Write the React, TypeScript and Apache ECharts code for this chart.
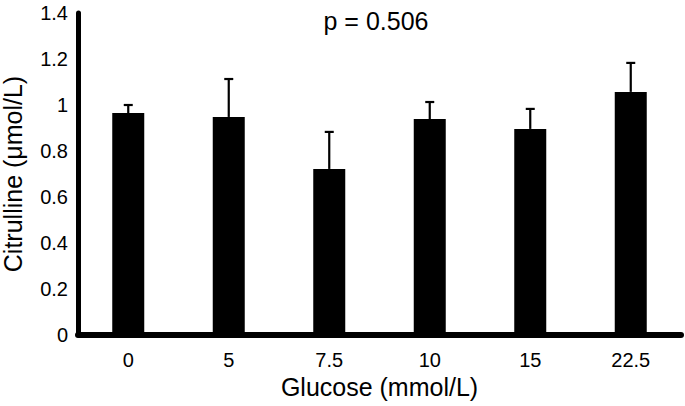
import React, { useEffect, useRef } from "react";
import * as echarts from "echarts";

const categories = ["0", "5", "7.5", "10", "15", "22.5"];
const means = [0.965, 0.948, 0.722, 0.939, 0.896, 1.057];
const errorTops = [1.0, 1.113, 0.883, 1.013, 0.983, 1.183];
const pText = "p = 0.506";

const FONT = "'Liberation Sans', Arial, sans-serif";

export default function App() {
  const ref = useRef<HTMLDivElement>(null);
  useEffect(() => {
    document.body.style.margin = "0";
    const chart = echarts.init(ref.current!, null, { renderer: "svg" });
    const errData = categories.map((_, i) => [i, means[i], errorTops[i]]);
    chart.setOption({
      animation: false,
      backgroundColor: "#ffffff",
      textStyle: { fontFamily: FONT },
      grid: { left: 78, right: 4, top: 13, bottom: 71, outerBoundsMode: "none", containLabel: false },
      title: {
        text: pText,
        left: 371,
        top: 3,
        textAlign: "center",
        textStyle: { fontFamily: FONT, fontSize: 25, fontWeight: "normal", color: "#000" },
      },
      xAxis: {
        type: "category",
        data: categories,
        name: "Glucose (mmol/L)",
        nameLocation: "middle",
        nameGap: 37,
        nameTextStyle: { fontFamily: FONT, fontSize: 25, color: "#000" },
        axisLine: { lineStyle: { color: "#000", width: 6, cap: "round" } },
        axisTick: { show: false },
        axisLabel: { fontFamily: FONT, fontSize: 20, color: "#000", margin: 15 },
      },
      yAxis: {
        type: "value",
        min: 0,
        max: 1.4,
        interval: 0.2,
        name: "Citrulline (\u03bcmol/L)",
        nameLocation: "middle",
        nameGap: 53,
        nameTextStyle: { fontFamily: FONT, fontSize: 25, color: "#000" },
        axisLine: { show: true, lineStyle: { color: "#000", width: 5, cap: "round" } },
        axisTick: { show: false },
        splitLine: { show: false },
        axisLabel: { fontFamily: FONT, fontSize: 20, color: "#000", margin: 10 },
      },
      series: [
        {
          type: "bar",
          data: means,
          barWidth: 32,
          itemStyle: { color: "#000" },
          z: 2,
        },
        {
          type: "custom",
          data: errData,
          z: 3,
          renderItem: (params: any, api: any) => {
            const i = api.value(0);
            const base = api.coord([i, api.value(1)]);
            const top = api.coord([i, api.value(2)]);
            const hw = 4.5;
            const style = { stroke: "#000", lineWidth: 2.2, fill: "none" };
            return {
              type: "group",
              children: [
                { type: "line", shape: { x1: base[0], y1: base[1], x2: top[0], y2: top[1] }, style },
                { type: "line", shape: { x1: top[0] - hw, y1: top[1], x2: top[0] + hw, y2: top[1] }, style },
              ],
            };
          },
        },
      ],
    });
    return () => chart.dispose();
  }, []);
  return <div ref={ref} style={{ width: 685, height: 406 }} />;
}
